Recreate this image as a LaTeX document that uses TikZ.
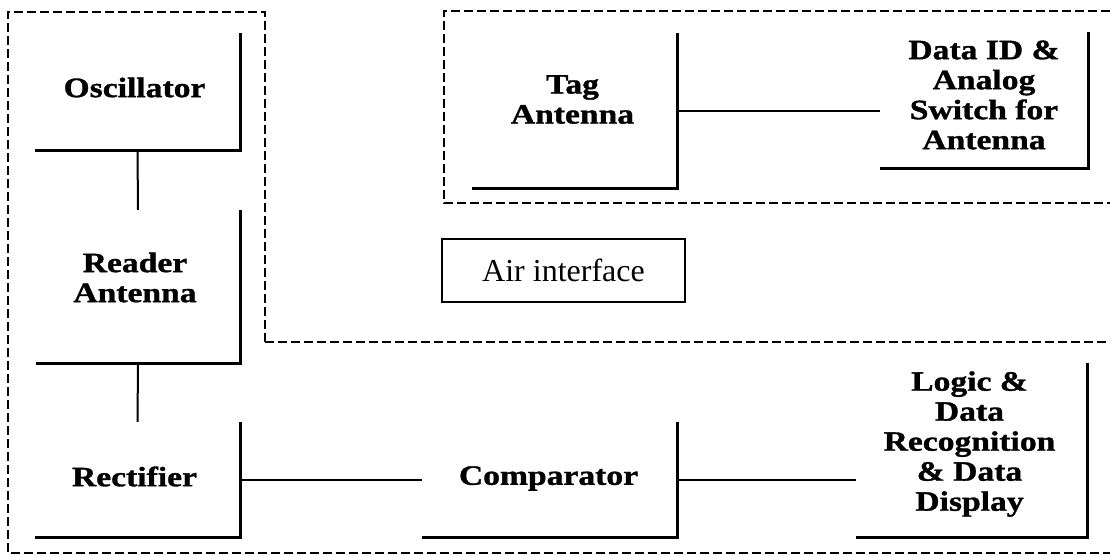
\documentclass[tikz,border=0pt]{standalone}
\usepackage{fontspec}
\setmainfont{Liberation Serif}
\newfontfamily\boxfont{Liberation Serif}[FakeStretch=1.2,FakeBold=1.2]
\begin{document}
\begin{tikzpicture}[x=1pt,y=-1pt,
  blk/.style={rectangle, draw=none, inner sep=0pt},
  lbl/.style={inner sep=0pt, align=center, font=\boxfont\bfseries\fontsize{28}{30}\selectfont},
  edge/.style={line width=3pt, line join=miter},
  conn/.style={line width=2pt},
  region/.style={line width=1.8pt, dash pattern=on 9pt off 4pt},
  airbox/.style={draw, line width=2pt, inner sep=0pt, font=\fontsize{32}{36}\selectfont}]
\useasboundingbox (0,0) rectangle (1110,555);
% dashed regions
\draw[region] (265,342) -- (265,12) -- (8,12) -- (8,553) -- (1110,553);
\draw[region] (265,342) -- (1110,342);
\draw[region] (1110,11) -- (444,11) -- (444,203) -- (1110,203);
% blocks
\node[blk, minimum width=205pt, minimum height=117pt,
  label={[lbl, xshift=-3pt, yshift=4pt]center:Oscillator}] (osc) at (137.5,91.5) {};
\node[blk, minimum width=204pt, minimum height=153pt,
  label={[lbl, xshift=-3pt, yshift=9pt]center:Reader\\Antenna}] (reader) at (138,286.5) {};
\node[blk, minimum width=205pt, minimum height=115pt,
  label={[lbl, xshift=-3pt, yshift=3pt]center:Rectifier}] (rect) at (137.5,479.5) {};
\node[blk, minimum width=255pt, minimum height=115pt,
  label={[lbl, xshift=-1pt, yshift=1pt]center:Comparator}] (comp) at (549.5,479.5) {};
\node[blk, minimum width=231pt, minimum height=174pt,
  label={[lbl, xshift=-2pt, yshift=6pt]center:Logic \&\\Data\\Recognition\\\& Data\\Display}] (logic) at (971.5,450) {};
\node[blk, minimum width=205pt, minimum height=155pt,
  label={[lbl, xshift=-2pt, yshift=11pt]center:Tag\\Antenna}] (tag) at (574.5,110.5) {};
\node[blk, minimum width=208pt, minimum height=136pt,
  label={[lbl, yshift=5pt]center:Data ID \&\\Analog\\Switch for\\Antenna}] (data) at (984,100) {};
\node[airbox, minimum width=243pt, minimum height=63pt] (air) at (563.5,270.5) {Air interface};
% block outlines (right and bottom edges)
\foreach \b in {osc,reader,rect,comp,logic,tag,data}
  \draw[edge] (\b.north east) -- (\b.south east) -- (\b.south west);
% connectors
\draw[conn] (osc.south) -- (reader.north);
\draw[conn] (reader.south) -- (rect.north);
\draw[conn] (rect.east) -- (comp.west);
\draw[conn] (comp.east) -- (comp.east -| logic.west);
\draw[conn] (tag.east) -- (tag.east -| data.west);
\end{tikzpicture}
\end{document}
